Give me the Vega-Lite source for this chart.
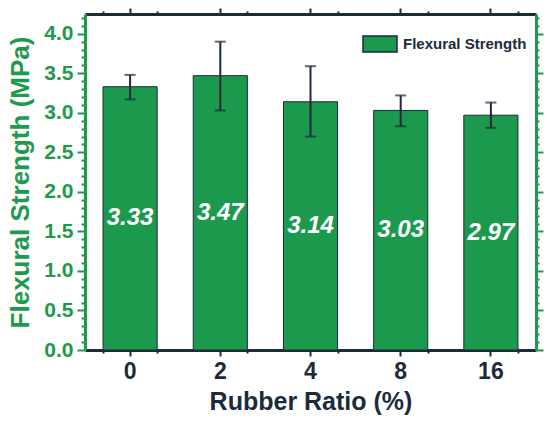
{
  "$schema": "https://vega.github.io/schema/vega-lite/v6.json",
  "description": "Flexural strength against rubber ratio, bars with error bars",
  "autosize": "none",
  "padding": {"left": 85, "top": 14, "right": 14, "bottom": 78},
  "width": 451,
  "height": 336,
  "config": {
    "view": {"stroke": null},
    "font": "Liberation Sans",
    "axis": {"grid": false, "labelFont": "Liberation Sans", "titleFont": "Liberation Sans", "labelFontWeight": "bold", "titleFontWeight": "bold"}
  },
  "data": {
    "values": [
      {"ratio": "0", "value": 3.33, "lo": 3.17, "hi": 3.48, "label": "3.33"},
      {"ratio": "2", "value": 3.47, "lo": 3.03, "hi": 3.90, "label": "3.47"},
      {"ratio": "4", "value": 3.14, "lo": 2.70, "hi": 3.59, "label": "3.14"},
      {"ratio": "8", "value": 3.03, "lo": 2.83, "hi": 3.22, "label": "3.03"},
      {"ratio": "16", "value": 2.97, "lo": 2.81, "hi": 3.13, "label": "2.97"}
    ]
  },
  "resolve": {"axis": {"x": "independent", "y": "independent"}, "scale": {"y": "independent"}},
  "layer": [
    {
      "mark": {"type": "bar", "stroke": "#1c2b3c", "strokeWidth": 1},
      "encoding": {
        "x": {
          "field": "ratio", "type": "nominal", "sort": null,
          "scale": {"paddingInner": 0.4, "paddingOuter": 0.2},
          "axis": {
            "orient": "bottom", "title": "Rubber Ratio (%)", "labelAngle": 0,
            "labelFontSize": 23, "labelColor": "#1c2b3c", "labelPadding": 4,
            "titleFontSize": 25, "titleColor": "#1c2b3c", "titlePadding": 6,
            "tickSize": 6, "tickWidth": 2, "tickColor": "#1c2b3c",
            "domainColor": "#1c2b3c", "domainWidth": 3
          }
        },
        "y": {
          "field": "value", "type": "quantitative",
          "scale": {"domain": [0, 4.25], "nice": false, "zero": true},
          "axis": {
            "orient": "left", "title": "Flexural Strength (MPa)",
            "values": [0, 0.1, 0.2, 0.3, 0.4, 0.5, 0.6, 0.7, 0.8, 0.9, 1, 1.1, 1.2, 1.3, 1.4, 1.5, 1.6, 1.7, 1.8, 1.9, 2, 2.1, 2.2, 2.3, 2.4, 2.5, 2.6, 2.7, 2.8, 2.9, 3, 3.1, 3.2, 3.3, 3.4, 3.5, 3.6, 3.7, 3.8, 3.9, 4, 4.1, 4.2],
            "format": ".1f",
            "labelExpr": "abs(round(datum.value * 2) - datum.value * 2) < 0.001 ? datum.label : ''",
            "labelFontSize": 21, "labelColor": "#1e9a4c", "labelPadding": 4,
            "titleFontSize": 26, "titleColor": "#1e9a4c", "titlePadding": 10,
            "tickSize": {"condition": {"test": "abs(round(datum.value * 2) - datum.value * 2) < 0.001", "value": 8}, "value": 4},
            "tickWidth": 2, "tickColor": "#1e9a4c",
            "domainColor": "#1e9a4c", "domainWidth": 3
          }
        },
        "color": {
          "datum": "Flexural Strength", "type": "nominal",
          "scale": {"range": ["#1b9a4e"]},
          "legend": {
            "title": null, "orient": "none", "legendX": 277, "legendY": 12,
            "symbolType": "M-1,-0.47H1V0.47H-1Z", "symbolSize": 1156,
            "symbolStrokeColor": "#1c2b3c", "symbolStrokeWidth": 1.5, "symbolOpacity": 1,
            "labelFont": "Liberation Sans", "labelFontSize": 15, "labelFontWeight": "bold",
            "labelColor": "#1c2b3c", "labelOffset": 5, "padding": 0
          }
        }
      }
    },
    {
      "mark": {"type": "rule", "color": "#1c2b3c", "strokeWidth": 2},
      "encoding": {
        "x": {
          "field": "ratio", "type": "nominal", "sort": null,
          "axis": {
            "orient": "top", "title": null, "labels": false,
            "tickSize": 6, "tickWidth": 2, "tickColor": "#1c2b3c",
            "domainColor": "#1c2b3c", "domainWidth": 3
          }
        },
        "y": {
          "field": "lo", "type": "quantitative",
          "scale": {"domain": [0, 4.25], "nice": false, "zero": true},
          "axis": {
            "orient": "right", "title": null, "labels": false,
            "values": [0, 0.1, 0.2, 0.3, 0.4, 0.5, 0.6, 0.7, 0.8, 0.9, 1, 1.1, 1.2, 1.3, 1.4, 1.5, 1.6, 1.7, 1.8, 1.9, 2, 2.1, 2.2, 2.3, 2.4, 2.5, 2.6, 2.7, 2.8, 2.9, 3, 3.1, 3.2, 3.3, 3.4, 3.5, 3.6, 3.7, 3.8, 3.9, 4, 4.1, 4.2],
            "tickSize": {"condition": {"test": "abs(round(datum.value * 2) - datum.value * 2) < 0.001", "value": 7}, "value": 3},
            "tickWidth": 2, "tickColor": "#1e9a4c",
            "domainColor": "#1e9a4c", "domainWidth": 3
          }
        },
        "y2": {"field": "hi"}
      }
    },
    {
      "mark": {"type": "tick", "color": "#1c2b3c", "thickness": 2, "size": 11},
      "encoding": {
        "x": {
          "field": "ratio", "type": "nominal", "sort": null,
          "axis": {
            "orient": "bottom", "title": null, "labels": false, "domain": false,
            "tickBand": "extent", "tickSize": 3, "tickWidth": 2, "tickColor": "#1c2b3c"
          }
        },
        "y": {"field": "hi", "type": "quantitative", "scale": {"domain": [0, 4.25], "nice": false, "zero": true}, "axis": null}
      }
    },
    {
      "mark": {"type": "tick", "color": "#1c2b3c", "thickness": 2, "size": 11},
      "encoding": {
        "x": {
          "field": "ratio", "type": "nominal", "sort": null,
          "axis": {
            "orient": "top", "title": null, "labels": false, "domain": false,
            "tickBand": "extent", "tickSize": 3, "tickWidth": 2, "tickColor": "#1c2b3c"
          }
        },
        "y": {"field": "lo", "type": "quantitative", "scale": {"domain": [0, 4.25], "nice": false, "zero": true}, "axis": null}
      }
    },
    {
      "mark": {"type": "text", "color": "white", "font": "Liberation Sans", "fontSize": 24, "fontWeight": "bold", "fontStyle": "italic", "baseline": "middle"},
      "encoding": {
        "x": {"field": "ratio", "type": "nominal", "sort": null, "axis": null},
        "y": {"field": "value", "type": "quantitative", "scale": {"domain": [0, 8.5], "nice": false, "zero": true}, "axis": null},
        "text": {"field": "label"}
      }
    }
  ]
}
